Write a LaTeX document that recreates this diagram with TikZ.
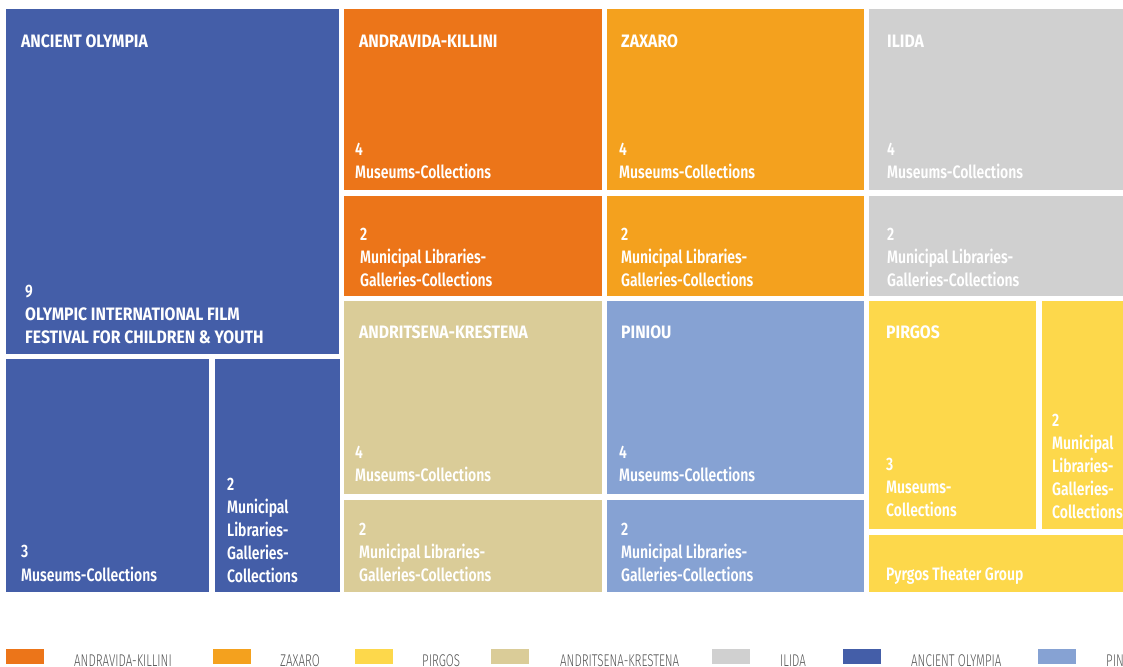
\documentclass[tikz,border=0pt]{standalone}
\usepackage{fontspec}
\setmainfont{Fira Sans}[FakeStretch=0.875]
\newfontfamily\boxfont{Fira Sans SemiBold}[FakeStretch=0.775]
\newfontfamily\legfont{Fira Sans Light}[FakeStretch=0.68]
\definecolor{cao}{HTML}{445EA8}
\definecolor{cand}{HTML}{EC7519}
\definecolor{czax}{HTML}{F4A11E}
\definecolor{cpir}{HTML}{FDD84B}
\definecolor{ckre}{HTML}{DACC98}
\definecolor{cili}{HTML}{D0D0D0}
\definecolor{cpin}{HTML}{86A2D3}
\definecolor{clegtxt}{HTML}{555555}
\tikzset{
  txt/.style={anchor=base west, inner sep=0pt, text=white, font=\boxfont\fontsize{18}{23}\selectfont},
  ttl/.style={anchor=base west, inner sep=0pt, text=white, font=\bfseries\fontsize{18}{23}\selectfont},
  leg/.style={anchor=base west, inner sep=0pt, text=clegtxt, font=\legfont\fontsize{17}{20}\selectfont},
}
\begin{document}
\begin{tikzpicture}[x=1pt,y=-1pt]
\useasboundingbox (0,0) rectangle (1123,666);
\clip (0,0) rectangle (1123,666);
\fill[white] (0,0) rectangle (1123,666);
% Ancient Olympia
\fill[cao] (6,9) rectangle (339,354);
\fill[cao] (6,359) rectangle (209,592);
\fill[cao] (215,359) rectangle (340,592);
% Andravida-Killini
\fill[cand] (344,9) rectangle (602,190);
\fill[cand] (344,196) rectangle (602,296);
% Zaxaro
\fill[czax] (607,9) rectangle (864,190);
\fill[czax] (607,196) rectangle (864,296);
% Ilida
\fill[cili] (869,9) rectangle (1123,190);
\fill[cili] (869,196) rectangle (1123,296);
% Andritsena-Krestena
\fill[ckre] (344,301) rectangle (602,494);
\fill[ckre] (344,500) rectangle (602,592);
% Piniou
\fill[cpin] (607,301) rectangle (864,494);
\fill[cpin] (607,500) rectangle (864,592);
% Pirgos
\fill[cpir] (869,301) rectangle (1036,529);
\fill[cpir] (1042,301) rectangle (1123,529);
\fill[cpir] (869,535) rectangle (1123,592);

% Ancient Olympia texts
\node[ttl] (aot) at (21,48) {ANCIENT OLYMPIA};
\node[txt] (aon) at (25,297) {9};
\node[ttl] (aol1) at (25,320) {OLYMPIC INTERNATIONAL FILM};
\node[ttl] (aol2) at (25,343) {FESTIVAL FOR CHILDREN \& YOUTH};
\node[txt] (aomn) at (21,557) {3};
\node[txt] (aom) at (21,581) {Museums-Collections};
\node[txt] (aoln) at (227,490) {2};
\node[txt] (aol3) at (227,513) {Municipal};
\node[txt] (aol4) at (227,536) {Libraries-};
\node[txt] (aol5) at (227,559) {Galleries-};
\node[txt] (aol6) at (227,582) {Collections};
% Andravida-Killini
\node[ttl] (ant) at (359,48) {ANDRAVIDA-KILLINI};
\node[txt] (anmn) at (355,155) {4};
\node[txt] (anm) at (355,178) {Museums-Collections};
\node[txt] (anln) at (360,240) {2};
\node[txt] (anl1) at (360,263) {Municipal Libraries-};
\node[txt] (anl2) at (360,286) {Galleries-Collections};
% Zaxaro
\node[ttl] (zat) at (621,48) {ZAXARO};
\node[txt] (zamn) at (619,155) {4};
\node[txt] (zam) at (619,178) {Museums-Collections};
\node[txt] (zaln) at (621,240) {2};
\node[txt] (zal1) at (621,263) {Municipal Libraries-};
\node[txt] (zal2) at (621,286) {Galleries-Collections};
% Ilida
\node[ttl] (ilt) at (887,48) {ILIDA};
\node[txt] (ilmn) at (887,155) {4};
\node[txt] (ilm) at (887,178) {Museums-Collections};
\node[txt] (illn) at (887,240) {2};
\node[txt] (ill1) at (887,263) {Municipal Libraries-};
\node[txt] (ill2) at (887,286) {Galleries-Collections};
% Andritsena-Krestena
\node[ttl] (krt) at (359,338) {ANDRITSENA-KRESTENA};
\node[txt] (krmn) at (355,458) {4};
\node[txt] (krm) at (355,481) {Museums-Collections};
\node[txt] (krln) at (359,535) {2};
\node[txt] (krl1) at (359,558) {Municipal Libraries-};
\node[txt] (krl2) at (359,581) {Galleries-Collections};
% Piniou
\node[ttl] (pit) at (621,338) {PINIOU};
\node[txt] (pimn) at (619,458) {4};
\node[txt] (pim) at (619,481) {Museums-Collections};
\node[txt] (piln) at (621,535) {2};
\node[txt] (pil1) at (621,558) {Municipal Libraries-};
\node[txt] (pil2) at (621,581) {Galleries-Collections};
% Pirgos
\node[ttl] (pyt) at (886,338) {PIRGOS};
\node[txt] (pymn) at (886,470) {3};
\node[txt] (pym1) at (886,493) {Museums-};
\node[txt] (pym2) at (886,516) {Collections};
\node[txt] (pyln) at (1052,426) {2};
\node[txt] (pyl1) at (1052,449) {Municipal};
\node[txt] (pyl2) at (1052,472) {Libraries-};
\node[txt] (pyl3) at (1052,495) {Galleries-};
\node[txt] (pyl4) at (1052,518) {Collections};
\node[txt] (pyth) at (886,580) {Pyrgos Theater Group};

% Legend
\fill[cand] (6,649) rectangle (44,664);
\node[leg] (l1) at (74,666.5) {ANDRAVIDA-KILLINI};
\fill[czax] (213,649) rectangle (251,664);
\node[leg] (l2) at (280,666.5) {ZAXARO};
\fill[cpir] (355,649) rectangle (393,664);
\node[leg] (l3) at (422,666.5) {PIRGOS};
\fill[ckre] (491,649) rectangle (529,664);
\node[leg] (l4) at (560,666.5) {ANDRITSENA-KRESTENA};
\fill[cili] (712,649) rectangle (750,664);
\node[leg] (l5) at (780,666.5) {ILIDA};
\fill[cao] (843,649) rectangle (881,664);
\node[leg] (l6) at (911,666.5) {ANCIENT OLYMPIA};
\fill[cpin] (1038,649) rectangle (1076,664);
\node[leg] (l7) at (1106,666.5) {PINIOU};
\end{tikzpicture}
\end{document}
